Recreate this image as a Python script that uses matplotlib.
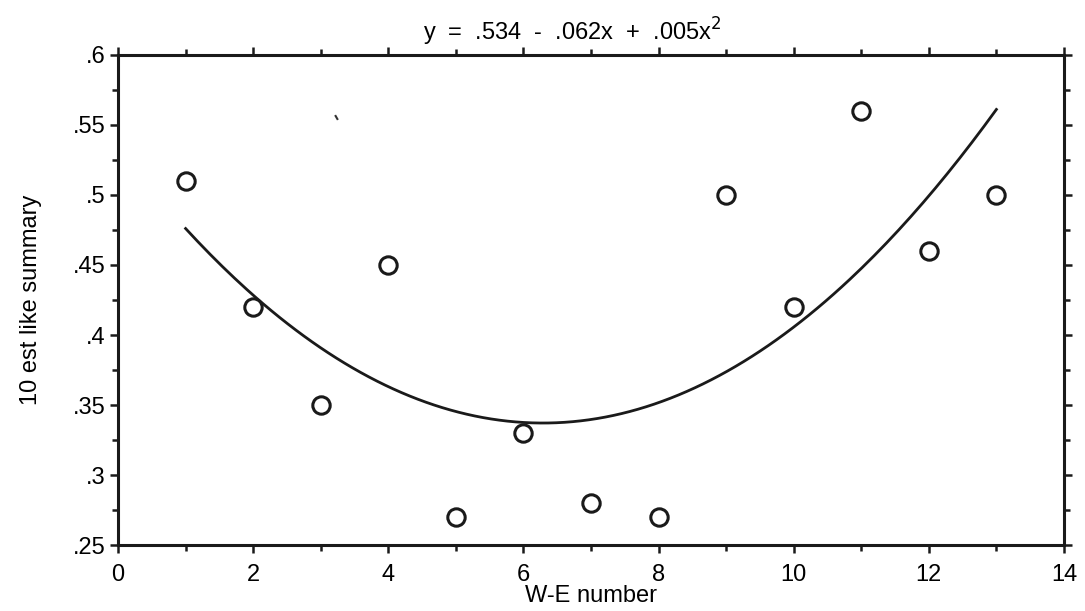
#! usr/bin/env python3

import numpy as np
import matplotlib
matplotlib.use("Agg")
import matplotlib.pyplot as plt
from matplotlib.ticker import MultipleLocator, FuncFormatter

#   data
we_number = [1, 2, 3, 4, 5, 6, 7, 8, 9, 10, 11, 12, 13]
est_like = [.51, .42, .35, .45, .27, .33, .28, .27, .50, .42, .56, .46, .50]
#   a stray speck on the scanned page
speck_x = [3.22]
speck_y = [.556]

plt.rcParams['font.family'] = ['Liberation Sans', 'DejaVu Sans']

fig = plt.figure(figsize=(10.85, 6.11), dpi=100)
ax = fig.add_axes([0.1088, 0.108, 0.8718, 0.802])

#   quadratic fit through the points (title gives the rounded coefficients)
coef = np.polyfit(we_number, est_like, 2)
xs = np.linspace(we_number[0], we_number[-1], 200)
ax.plot(xs, np.polyval(coef, xs), color='#1a1a1a', lw=2)
ax.plot(we_number, est_like, 'o', ms=12.5, mfc='white', mec='#1a1a1a', mew=2.2)
ax.plot(speck_x, speck_y, marker=(2, 0, 30), ms=4, color='#333333', mew=1.5, ls='none')

ax.set_xlim(0, 14)
ax.set_ylim(.25, .6)
ax.xaxis.set_major_locator(MultipleLocator(2))
ax.xaxis.set_minor_locator(MultipleLocator(1))
ax.yaxis.set_major_locator(MultipleLocator(.05))
ax.yaxis.set_minor_locator(MultipleLocator(.025))
ax.yaxis.set_major_formatter(FuncFormatter(lambda v, p: ('%g' % round(v, 3)).lstrip('0')))

ax.tick_params(which='both', direction='out', top=True, right=True, labelsize=17, width=1.8, color='#1a1a1a')
ax.tick_params(which='major', length=6, pad=3)
ax.tick_params(which='minor', length=4)
ax.tick_params(axis='x', which='major', pad=8)
for s in ax.spines.values():
    s.set_linewidth(2.2)
    s.set_color('#1a1a1a')

ax.set_xlabel("W-E number", fontsize=17, labelpad=-1)
ax.set_ylabel("10 est like summary", fontsize=17, labelpad=22)
fig.text(572 / 1085, 1 - 32 / 611, "y  =  .534  -  .062x  +  .005x$^2$", fontsize=17,
         ha='center', va='center')

fig.savefig("out.png", dpi=100)
